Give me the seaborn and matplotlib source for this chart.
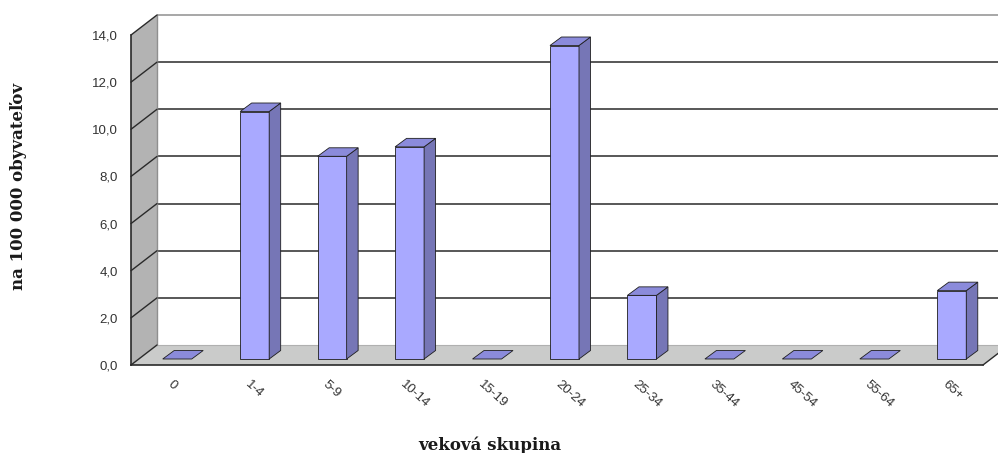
import matplotlib
matplotlib.use("Agg")
import matplotlib.pyplot as plt
from matplotlib.patches import Polygon
import seaborn as sns

# Incidence per 100 000 inhabitants by age group
age_groups = ["0", "1-4", "5-9", "10-14", "15-19", "20-24", "25-34",
              "35-44", "45-54", "55-64", "65+"]
rates = [0.0, 10.5, 8.6, 9.0, 0.0, 13.3, 2.7, 0.0, 0.0, 0.0, 2.9]
y_ticks = [0, 2, 4, 6, 8, 10, 12, 14]
y_tick_labels = ["0,0", "2,0", "4,0", "6,0", "8,0", "10,0", "12,0", "14,0"]

sns.set_style("white")
plt.rcParams["font.family"] = ["Liberation Sans", "DejaVu Sans"]

W, H = 998, 453
fig = plt.figure(figsize=(W / 100, H / 100), dpi=100)
# front plane of the plot: x 131..983 px, y 35..365 px (from top)
ax = fig.add_axes([131 / W, (H - 365) / H, 852 / W, 330 / H])

n = len(age_groups)
sx = 852 / n          # px per category
sy = 330 / 14         # px per value unit

# depth of the box (back wall relative to front plane), in data units
DX, DY = 26 / sx, 20 / sy
# bar placement inside the box
FX, FY = 7.5 / sx, 6 / sy       # front face offset
BX, BY = 11.5 / sx, 8.5 / sy    # bar depth
bar_w = 29 / sx

front_c, side_c, top_c = "#A9A9FF", "#7676B6", "#8B8BDB"
edge_c = "#1e1e1e"

sns.barplot(x=age_groups, y=rates, order=age_groups, color=front_c,
            saturation=1, width=bar_w, edgecolor=edge_c, linewidth=0.6,
            ax=ax, zorder=3)
bars = list(ax.patches)

x0, x1 = -0.5, n - 0.5
ax.set_xlim(x0, x1)
ax.set_ylim(0, 14)

# left wall and floor
ax.add_patch(Polygon([(x0, 0), (x0, 14), (x0 + DX, 14 + DY), (x0 + DX, DY)],
                     closed=True, facecolor="#B3B3B3", edgecolor="none",
                     zorder=0.5, clip_on=False))
ax.add_patch(Polygon([(x0, 0), (x1, 0), (x1 + DX, DY), (x0 + DX, DY)],
                     closed=True, facecolor="#CACBCA", edgecolor="none",
                     zorder=0.6, clip_on=False))

# gridlines on back wall and left wall
for v in y_ticks:
    if v > 0:
        col = "#8f8f8f" if v == 14 else "#2a2a2a"
        ax.plot([x0 + DX, x1 + DX + 0.3], [v + DY, v + DY], color=col,
                lw=1.1, zorder=0.7, clip_on=False, solid_capstyle="butt")
    ax.plot([x0, x0 + DX], [v, v + DY], color="#2a2a2a", lw=1.0,
            zorder=0.8, clip_on=False)
# back wall left edge and floor back edge
ax.plot([x0 + DX, x0 + DX], [DY, 14 + DY], color="#8f8f8f", lw=1.0,
        zorder=0.7, clip_on=False)
ax.plot([x0 + DX, x1 + DX + 0.3], [DY, DY], color="#b0b0b0", lw=0.8,
        zorder=0.7, clip_on=False)
# floor right edge
ax.plot([x1, x1 + DX], [0, DY], color="#2a2a2a", lw=1.0, zorder=1,
        clip_on=False)

# shift front faces into the box and add side and top faces
for patch in bars:
    bx = patch.get_x() + FX
    h = patch.get_height()
    patch.set_x(bx)
    patch.set_y(FY)
    y_top = FY + h
    # top face
    ax.add_patch(Polygon([(bx, y_top), (bx + bar_w, y_top),
                          (bx + bar_w + BX, y_top + BY), (bx + BX, y_top + BY)],
                         closed=True, facecolor=top_c, edgecolor=edge_c,
                         lw=0.6, zorder=3.2, clip_on=False))
    if h > 0:
        # side face
        ax.add_patch(Polygon([(bx + bar_w, FY), (bx + bar_w + BX, FY + BY),
                              (bx + bar_w + BX, y_top + BY), (bx + bar_w, y_top)],
                             closed=True, facecolor=side_c, edgecolor=edge_c,
                             lw=0.6, zorder=3.1, clip_on=False))
    else:
        patch.set_visible(False)

# axes
for s in ["top", "right"]:
    ax.spines[s].set_visible(False)
for s in ["left", "bottom"]:
    ax.spines[s].set_color("#2a2a2a")
    ax.spines[s].set_linewidth(1.2)
    ax.spines[s].set_zorder(1)

ax.set_yticks(y_ticks)
ax.set_yticklabels(y_tick_labels)
ax.tick_params(axis="y", direction="out", length=3, width=1, color="#2a2a2a",
               pad=6.5, labelsize=9.5, labelcolor="#333333")

ax.set_xticks(range(n))
ax.set_xticklabels(age_groups, rotation=-42, ha="left", va="center",
                   rotation_mode="anchor")
ax.tick_params(axis="x", which="major", length=0, pad=13, labelsize=9.5,
               labelcolor="#333333")
ax.set_xticks([i + 0.5 for i in range(n - 1)], minor=True)
ax.tick_params(axis="x", which="minor", direction="out", length=2, width=1.2,
               color="#2a2a2a")

ax.set_xlabel("")
ax.set_ylabel("")
ax.set_facecolor("none")

fig.text(490 / W, 1 - 445 / H, "veková skupina", ha="center", va="center",
         fontsize=12, fontweight="bold", family=["DejaVu Serif"],
         color="#1a1a1a")
fig.text(19 / W, 1 - 186 / H, "na 100 000 obyvateľov", ha="center",
         va="center", rotation=90, fontsize=12, fontweight="bold",
         family=["DejaVu Serif"], color="#1a1a1a")

fig.savefig("out.png", dpi=100)
